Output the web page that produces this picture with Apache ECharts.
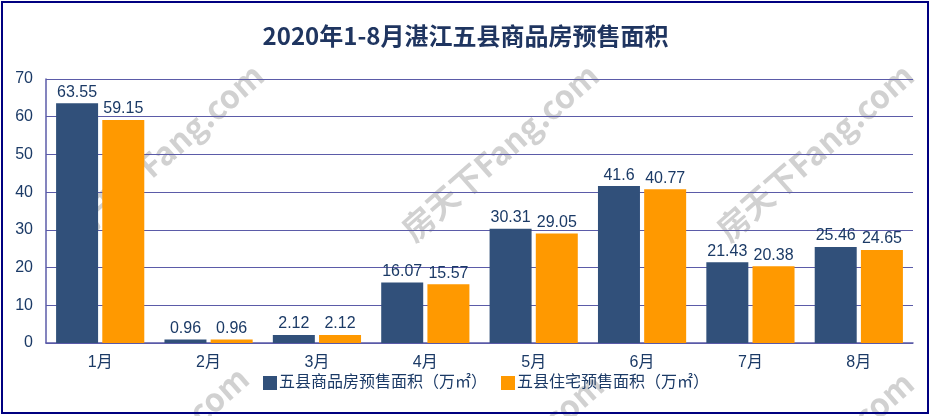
<!DOCTYPE html>
<html>
<head>
<meta charset="utf-8">
<script src="https://cdn.jsdelivr.net/npm/echarts@6/dist/echarts.min.js"></script>
<style>
  html, body { margin: 0; padding: 0; background: #fff; }
  #main { width: 931px; height: 416px; }
</style>
</head>
<body>
<div id="main"></div>
<script>
const months = ['1月', '2月', '3月', '4月', '5月', '6月', '7月', '8月']
const totalArea = [63.55, 0.96, 2.12, 16.07, 30.31, 41.6, 21.43, 25.46]
const houseArea = [59.15, 0.96, 2.12, 15.57, 29.05, 40.77, 20.38, 24.65]
const seriesNames = ['五县商品房预售面积（万㎡）', '五县住宅预售面积（万㎡）']

const textColor = '#1b3a66'
const lineColor = '#5b5ba8'
const font = 'Liberation Sans, Noto Sans CJK SC, sans-serif'

// 房天下 watermark
const marks = [[165, 152], [500, 152], [815, 152], [150, 455], [505, 462], [815, 460]]
const watermark = marks.map(p => ({
  type: 'text',
  x: p[0],
  y: p[1],
  rotation: 0.72,
  z: 0,
  style: {
    text: '房天下Fang.com',
    fill: 'rgba(140,140,140,0.4)',
    font: 'bold 32px "Noto Sans CJK SC", sans-serif',
    align: 'center',
    verticalAlign: 'middle'
  }
}))

const chart = echarts.init(document.getElementById('main'))
chart.setOption({
  animation: false,
  backgroundColor: '#fff',
  title: {
    text: '2020年1-8月湛江五县商品房预售面积',
    left: 'center',
    top: 19,
    textStyle: {
      color: '#1f3560',
      fontSize: 24,
      fontWeight: 'bold',
      fontFamily: 'Noto Sans CJK SC'
    }
  },
  graphic: [
    {
      type: 'rect',
      z: 10,
      shape: { x: 2, y: 2, width: 926, height: 411 },
      style: { fill: 'none', stroke: '#000080', lineWidth: 2 }
    }
  ].concat(watermark),
  legend: {
    bottom: 20,
    left: 258,
    itemWidth: 14,
    itemHeight: 14,
    itemGap: 14,
    icon: 'rect',
    textStyle: { color: textColor, fontSize: 16, fontFamily: font, padding: [0, 0, 0, -3] },
    data: seriesNames
  },
  grid: { left: 46, right: 18, top: 79, bottom: 73 },
  xAxis: {
    type: 'category',
    data: months,
    axisLine: { lineStyle: { color: lineColor, width: 1.5 } },
    axisTick: { inside: true, length: 6, lineStyle: { color: lineColor, width: 1.5 } },
    axisLabel: { color: textColor, fontSize: 16, fontFamily: font, margin: 12 }
  },
  yAxis: {
    type: 'value',
    min: 0,
    max: 70,
    interval: 10,
    axisLine: { show: true, lineStyle: { color: lineColor, width: 1.5 } },
    axisTick: { show: false },
    splitLine: { lineStyle: { color: lineColor, width: 1.2 } },
    axisLabel: { color: textColor, fontSize: 16, fontFamily: font, margin: 13 }
  },
  series: [
    {
      name: seriesNames[0],
      type: 'bar',
      data: totalArea,
      barWidth: 42,
      barGap: '10%',
      itemStyle: { color: '#31507a' },
      label: { show: true, position: 'top', distance: 3, color: textColor, fontSize: 16, fontFamily: font }
    },
    {
      name: seriesNames[1],
      type: 'bar',
      data: houseArea,
      barWidth: 42,
      barGap: '10%',
      itemStyle: { color: '#ff9900' },
      label: { show: true, position: 'top', distance: 3, color: textColor, fontSize: 16, fontFamily: font }
    }
  ]
})
</script>
</body>
</html>
